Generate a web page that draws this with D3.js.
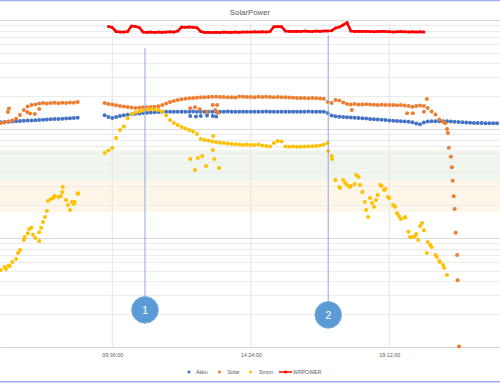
<!DOCTYPE html>
<html><head><meta charset="utf-8">
<script src="https://cdn.jsdelivr.net/npm/d3@7"></script>
<style>html,body{margin:0;padding:0;background:#fff;}svg{display:block;font-family:"Liberation Sans","Open Sans",sans-serif;}</style>
</head><body><svg id="c" width="500" height="383"></svg>
<script>
const N = null;
const title = "SolarPower";
const seriesNames = ["Akku","Solar","Strom","WRPOWER"];
const xTickLabels = ["09:36:00","14:24:00","19:12:00"];
const times = [
"05:44","05:52","06:00","06:08","06:16","06:24","06:32","06:40","06:48","06:56",
"07:04","07:12","07:20","07:28","07:36","07:44","07:52","08:00","08:08","08:16",
"08:24","08:32","08:40","08:48","08:56","09:04","09:12","09:20","09:28","09:36",
"09:44","09:52","10:00","10:08","10:16","10:24","10:32","10:40","10:48","10:56",
"11:04","11:12","11:20","11:28","11:36","11:44","11:52","12:00","12:08","12:16",
"12:24","12:32","12:40","12:48","12:56","13:04","13:12","13:20","13:28","13:36",
"13:44","13:52","14:00","14:08","14:16","14:24","14:32","14:40","14:48","14:56",
"15:04","15:12","15:20","15:28","15:36","15:44","15:52","16:00","16:08","16:16",
"16:24","16:32","16:40","16:48","16:56","17:04","17:12","17:20","17:28","17:36",
"17:44","17:52","18:00","18:08","18:16","18:24","18:32","18:40","18:48","18:56",
"19:04","19:12","19:20","19:28","19:36","19:44","19:52","20:00","20:08","20:16",
"20:24","20:32","20:40","20:48","20:56","21:04","21:12","21:20","21:28","21:36",
"21:44","21:52","22:00","22:08","22:16","22:24","22:32","22:40","22:48","22:56"];
const akku = [
115.5,115.9,116.4,116.9,117.6,118.4,118.9,119.4,119.9,120.4,
120.9,121.4,122.0,122.6,123.2,123.7,124.2,124.8,125.4,125.9,
126.7,N,N,N,N,N,N,133.8,128.9,126.2,
128.9,131.6,133.5,135.3,136.7,137.9,139.0,140.2,141.1,142.0,
142.5,143.2,143.6,144.1,143.8,144.1,144.3,144.1,143.8,144.1,
144.4,144.1,143.9,144.1,144.1,144.3,144.1,143.9,144.1,144.4,
144.1,144.1,143.8,144.1,144.3,144.1,144.1,143.9,144.1,144.4,
144.1,144.1,143.8,144.1,144.1,144.3,144.1,143.9,144.1,144.1,
144.4,144.1,143.9,144.1,144.1,140.2,133.0,130.7,129.4,128.9,
128.0,127.5,126.7,126.2,125.4,124.7,123.8,123.0,122.2,121.4,
120.7,119.7,118.9,118.4,117.6,117.1,116.4,115.2,112.4,110.5,
114.7,117.1,117.6,117.9,117.9,117.9,117.6,116.9,116.4,115.9,
115.2,114.5,114.0,113.5,113.5,113.3,113.0,113.0,112.8,112.8];
const solar = [
113.5,114.7,117.1,119.6,124.5,134.4,149.4,160.9,166.1,167.8,
171.4,173.2,171.4,173.2,174.5,172.5,174.1,173.2,175.1,174.1,
176.9,N,N,N,N,N,N,173.2,169.6,167.8,
165.4,162.6,160.9,159.2,157.5,155.9,156.9,158.1,158.1,159.2,
159.8,161.5,166.1,171.4,176.9,180.7,184.6,187.3,189.3,191.3,
192.5,193.7,195.4,195.4,196.6,197.9,197.9,196.6,196.6,195.4,
195.4,194.6,198.7,197.9,196.6,196.6,195.8,197.5,196.6,197.9,
196.6,195.4,196.6,195.4,195.4,194.6,193.7,192.5,192.5,192.5,
191.3,192.5,191.3,190.4,189.3,176.9,173.2,184.6,182.6,175.1,
169.6,167.8,169.6,167.8,167.8,168.5,167.8,167.1,166.1,167.1,
166.1,166.1,166.1,165.4,166.1,164.4,162.6,160.2,162.6,164.4,
162.6,155.9,144.7,135.9,122.2,115.9,N,N,N,N,
N,N,N,N,N,N,N,N,N,N];
const strom = [
5.09,5.43,5.55,6.02,6.42,7.76,9.59,11.07,12.39,10.0,
11.3,14.0,17.7,22.8,24.3,23.8,26.4,22.3,18.1,20.5,
25.3,N,N,N,N,N,N,60.2,63.5,66.9,
82.7,97.9,105.4,125.4,137.3,141.7,144.7,147.9,151.0,151.6,
151.0,149.4,144.7,133.0,120.9,113.5,108.8,104.3,101.1,97.9,
94.9,90.0,81.0,79.3,78.5,76.8,76.0,74.7,74.4,73.6,
72.8,72.3,72.0,71.3,72.0,71.3,71.3,72.0,70.6,69.8,
69.1,74.4,77.6,76.8,69.1,68.7,69.1,68.7,68.7,69.1,
69.1,69.4,69.8,70.6,72.0,74.4,56.5,34.0,29.4,34.0,
30.6,30.0,31.3,36.2,26.4,18.1,23.3,19.3,24.8,30.0,
28.2,23.3,20.1,16.9,14.9,15.3,11.4,10.2,10.9,12.9,
11.8,9.19,8.28,6.98,6.16,5.65,4.58,N,N,N,
N,N,N,N,N,N,N,N,N,N];
const wrpower = [
N,N,N,N,N,N,N,N,N,N,
N,N,N,N,N,N,N,N,N,N,
N,N,N,N,N,N,N,N,870,853,
784,776,776,784,881,871,853,776,770,776,
768,776,770,776,780,776,792,862,857,862,
857,850,784,768,770,768,770,768,776,770,
770,776,770,776,776,776,780,776,780,776,
784,868,871,868,792,787,784,787,784,792,
787,784,792,787,792,792,797,844,862,900,
948,792,784,787,784,787,784,780,784,787,
784,780,776,780,784,780,776,780,776,780,
776,N,N,N,N,N,N,N,N,N,
N,N,N,N,N,N,N,N,N,N];
// extra readings logged between the regular samples
const akkuExtra = [["12:18",131.6],["12:30",130.2],["12:40",131.6],["12:53",133.0],["13:05",131.6],["13:12",130.2]];
const solarExtra = [["05:59",143.2],["06:01",154.2],["06:39",143.2],["06:45",138.8],["06:55",137.3],["07:04",152.6],
["12:18",155.0],["12:28",158.1],["12:38",151.6],["12:53",144.1],["13:05",166.1],["13:10",149.4],["13:14",166.1],["13:16",141.1],
["17:54",149.4],["19:49",139.3],["20:01",139.3],["20:24",144.1],["20:30",188.5],
["21:08",112.8],["21:12",100.0],["21:14",91.9],["21:16",67.2],["21:20",55.7],["21:22",44.5],["21:24",33.6],["21:26",24.2],
["21:28",18.5],["21:30",11.2],["21:33",7.0],["21:34",4.1],["21:37",1.01]];
const stromExtra = [["05:55",5.19],["06:03",5.53],["06:20",7.29],["06:34",10.2],["06:43",12.1],["06:51",10.7],["07:04",9.39],
["07:08",12.4],["07:16",15.6],["07:22",21.8],["07:33",23.3],["07:49",24.3],["07:53",29.4],["08:04",20.1],["08:12",21.4],
["08:18",21.4],["08:25",25.8],
["12:18",53.1],["12:28",42.0],["12:34",54.2],["12:43",56.6],["12:51",45.8],["13:05",64.2],["13:06",86.3],["13:08",53.1],["13:18",43.9],
["17:05",62.8],["17:13",53.1],["17:30",28.8],["17:40",32.0],["17:50",29.4],["18:03",37.8],["18:11",30.6],["18:21",21.4],
["18:28",15.6],["18:36",21.0],["18:44",22.3],["18:53",30.6],["19:01",27.6],["19:09",23.8],["19:24",19.3],["19:32",15.9],
["19:45",15.6],["19:55",10.2],["20:05",10.4],["20:12",9.59],["20:20",13.7],["20:30",7.29],["20:37",8.63],["20:51",6.69],
["20:57",6.02],["21:06",5.31]];
const bands = [[34,64],[17.3,34]];
const markers = [["1","10:44",553,2.19],["2","17:05",728,1.97]];

const parseT = s => { const p = s.split(":").map(Number); return p[0]*60 + p[1] + (p[2]||0)/60; };
const W = 500, H = 383;
const x = d3.scaleLinear().domain([342.5, 1382.2]).range([0, W]);
const y = d3.scaleLog().domain([1, 1000]).range([347, 20]);
const svg = d3.select("#c");
svg.append("rect").attr("width",W).attr("height",H).attr("fill","#fff");

const bandColors = ["#f0f5ee","#fdf6e9"];
svg.selectAll("rect.band").data(bands).join("rect").attr("class","band")
  .attr("x",0).attr("width",W).attr("y",d=>y(d[1])).attr("height",d=>y(d[0])-y(d[1]))
  .attr("fill",(d,i)=>bandColors[i]);

const grid = [];
[1,10,100].forEach(d=>{ for(let k=1;k<=9;k++) grid.push({v:d*k, major:k===1}); });
grid.push({v:1000, major:true});
svg.selectAll("line.hg").data(grid.filter(g=>g.v>1)).join("line").attr("class","hg")
  .attr("x1",0).attr("x2",W).attr("y1",d=>Math.round(y(d.v))+0.5).attr("y2",d=>Math.round(y(d.v))+0.5)
  .attr("stroke",d=>d.major?"#dadada":"#ececec").attr("stroke-width",1);

const xt = xTickLabels.map(parseT);
svg.selectAll("line.vg").data(xt).join("line").attr("class","vg")
  .attr("x1",d=>x(d)).attr("x2",d=>x(d)).attr("y1",20).attr("y2",347)
  .attr("stroke","#e4e4e4").attr("stroke-width",1);

const ax = svg.append("g").attr("transform",`translate(0,${y(1)})`)
  .call(d3.axisBottom(x).tickValues(xt).tickFormat((d,i)=>xTickLabels[i]).tickSize(0).tickPadding(6));
ax.select(".domain").attr("stroke","#d6d6d6");
ax.selectAll("text").attr("font-size",5.4).attr("fill","#595959").attr("font-family","Liberation Sans, sans-serif");

svg.append("text").attr("x",W/2).attr("y",14.8).attr("text-anchor","middle")
  .attr("font-size",7.8).attr("fill","#595959").text(title);

function pts(vals, extra){
  const a = [];
  times.forEach((t,i)=>{ if(vals[i]!=null) a.push([parseT(t), vals[i]]); });
  (extra||[]).forEach(e=>a.push([parseT(e[0]), e[1]]));
  return a;
}
const colors = ["#4472C4","#ED7D31","#FFC000","#FF0000"];
const dotSeries = [pts(akku,akkuExtra), pts(solar,solarExtra), pts(strom,stromExtra)];
const plot = svg.append("g");
dotSeries.forEach((s,k)=>{
  plot.append("g").selectAll("circle").data(s).join("circle")
    .attr("cx",d=>x(d[0])).attr("cy",d=>y(d[1])).attr("r",2.0).attr("fill",colors[k]);
});
const wr = pts(wrpower);
plot.append("path").datum(wr).attr("fill","none").attr("stroke",colors[3]).attr("stroke-width",2.6)
  .attr("stroke-linejoin","round").attr("d",d3.line().x(d=>x(d[0])).y(d=>y(d[1])));
plot.append("g").selectAll("circle").data(wr).join("circle")
  .attr("cx",d=>x(d[0])).attr("cy",d=>y(d[1])).attr("r",1.5).attr("fill",colors[3]);

markers.forEach(m=>{
  const mx = x(parseT(m[1]));
  svg.append("line").attr("x1",mx).attr("x2",mx).attr("y1",y(m[2])).attr("y2",y(m[3]))
    .attr("stroke","#8eaadb").attr("stroke-width",1);
  svg.append("circle").attr("cx",mx).attr("cy",y(m[3])).attr("r",13.3)
    .attr("fill","#5B9BD5").attr("stroke","#7aaee0").attr("stroke-width",1);
  svg.append("text").attr("x",mx).attr("y",y(m[3])+4).attr("text-anchor","middle")
    .attr("font-size",11).attr("fill","#fff").text(m[0]);
});

// legend
const lg = svg.append("g");
const legX = [189,219.5,250.5,285.5], legTX = [196,227.5,259,293], ly = 372;
seriesNames.forEach((n,i)=>{
  if(i===3){
    lg.append("line").attr("x1",279).attr("x2",292).attr("y1",ly).attr("y2",ly).attr("stroke",colors[3]).attr("stroke-width",1.5);
  }
  lg.append("circle").attr("cx",legX[i]).attr("cy",ly).attr("r",1.6).attr("fill",colors[i]);
  lg.append("text").attr("x",legTX[i]).attr("y",ly+1.8).attr("font-size",5.2).attr("fill","#595959").text(n);
});

svg.append("line").attr("x1",0).attr("x2",W).attr("y1",0.6).attr("y2",0.6).attr("stroke","#9fb0f2").attr("stroke-width",1.2);
svg.append("line").attr("x1",0).attr("x2",W).attr("y1",381.8).attr("y2",381.8).attr("stroke","#9fb0f2").attr("stroke-width",1.6);
</script></body></html>
